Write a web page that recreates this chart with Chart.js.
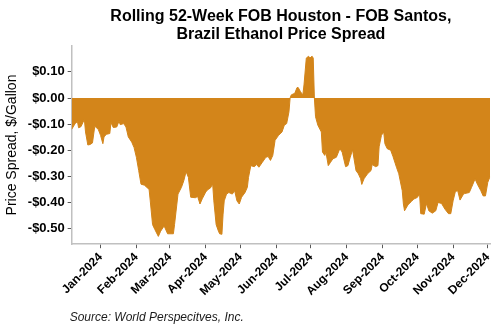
<!DOCTYPE html>
<html>
<head>
<meta charset="utf-8">
<script src="https://cdn.jsdelivr.net/npm/chart.js@4.4.1/dist/chart.umd.min.js"></script>
<style>
  html, body { margin: 0; padding: 0; background: #ffffff; }
  #wrap { width: 500px; height: 330px; position: relative; }
</style>
</head>
<body>
<div id="wrap"><canvas id="c" width="500" height="330"></canvas></div>
<script>
// ---- data ----
const dates = [
  '2023-12-07','2023-12-10','2023-12-12','2023-12-13','2023-12-15','2023-12-18','2023-12-19','2023-12-21','2023-12-23','2023-12-25',
  '2023-12-27','2023-12-30','2024-01-01','2024-01-03','2024-01-04','2024-01-06','2024-01-09','2024-01-10','2024-01-12','2024-01-15',
  '2024-01-17','2024-01-18','2024-01-21','2024-01-23','2024-01-25','2024-01-28','2024-01-30','2024-02-01','2024-02-03','2024-02-05',
  '2024-02-08','2024-02-12','2024-02-13','2024-02-15','2024-02-17','2024-02-20','2024-02-22','2024-02-25','2024-02-28','2024-03-04',
  '2024-03-05','2024-03-08','2024-03-11','2024-03-13','2024-03-15','2024-03-17','2024-03-19','2024-03-23','2024-03-25','2024-03-27',
  '2024-03-29','2024-04-01','2024-04-03','2024-04-05','2024-04-07','2024-04-08','2024-04-10','2024-04-12','2024-04-13','2024-04-15',
  '2024-04-16','2024-04-17','2024-04-19','2024-04-21','2024-04-24','2024-04-26','2024-04-28','2024-04-30','2024-05-02','2024-05-05',
  '2024-05-07','2024-05-08','2024-05-10','2024-05-13','2024-05-15','2024-05-17','2024-05-20','2024-05-23','2024-05-25','2024-05-27',
  '2024-05-29','2024-05-31','2024-06-03','2024-06-06','2024-06-08','2024-06-10','2024-06-12','2024-06-13','2024-06-14','2024-06-17',
  '2024-06-19','2024-06-20','2024-06-22','2024-06-24','2024-06-25','2024-06-27','2024-06-29','2024-06-30','2024-07-02','2024-07-03',
  '2024-07-04','2024-07-05','2024-07-07','2024-07-10','2024-07-11','2024-07-13','2024-07-14','2024-07-16','2024-07-18','2024-07-20',
  '2024-07-23','2024-07-26','2024-07-28','2024-07-31','2024-08-02','2024-08-04','2024-08-06','2024-08-09','2024-08-11','2024-08-13',
  '2024-08-14','2024-08-16','2024-08-19','2024-08-22','2024-08-23','2024-08-26','2024-08-28','2024-08-29','2024-08-31','2024-09-02',
  '2024-09-03','2024-09-05','2024-09-08','2024-09-10','2024-09-13','2024-09-15','2024-09-18','2024-09-19','2024-09-20','2024-09-23',
  '2024-09-26','2024-09-28','2024-10-01','2024-10-03','2024-10-04','2024-10-07','2024-10-09','2024-10-11','2024-10-14','2024-10-17',
  '2024-10-19','2024-10-22','2024-10-25','2024-10-28','2024-10-30','2024-11-01','2024-11-03','2024-11-05','2024-11-07','2024-11-10',
  '2024-11-11','2024-11-15','2024-11-17','2024-11-20','2024-11-22','2024-11-25','2024-11-27','2024-11-29','2024-12-01','2024-12-03'
];
const spread = [
  -0.120,-0.098,-0.090,-0.114,-0.110,-0.082,-0.130,-0.180,-0.178,-0.172,
  -0.108,-0.120,-0.143,-0.175,-0.149,-0.139,-0.136,-0.094,-0.113,-0.111,
  -0.088,-0.102,-0.098,-0.111,-0.149,-0.169,-0.190,-0.227,-0.278,-0.330,
  -0.334,-0.350,-0.394,-0.485,-0.504,-0.530,-0.510,-0.490,-0.520,-0.520,
  -0.485,-0.368,-0.342,-0.317,-0.282,-0.304,-0.380,-0.382,-0.377,-0.406,
  -0.386,-0.360,-0.350,-0.345,-0.330,-0.394,-0.485,-0.510,-0.520,-0.522,
  -0.445,-0.394,-0.368,-0.362,-0.368,-0.355,-0.394,-0.406,-0.380,-0.362,
  -0.342,-0.304,-0.259,-0.263,-0.255,-0.265,-0.246,-0.227,-0.224,-0.239,
  -0.220,-0.162,-0.143,-0.130,-0.104,-0.098,-0.053, 0.000, 0.012, 0.018,
   0.040, 0.040, 0.024, 0.012, 0.050, 0.153, 0.160, 0.153, 0.160, 0.153,
   0.000,-0.072,-0.104,-0.130,-0.207,-0.220,-0.207,-0.259,-0.246,-0.233,
  -0.227,-0.194,-0.207,-0.263,-0.259,-0.227,-0.198,-0.278,-0.290,-0.309,
  -0.331,-0.309,-0.290,-0.278,-0.255,-0.263,-0.259,-0.187,-0.143,-0.130,
  -0.175,-0.194,-0.200,-0.224,-0.265,-0.290,-0.355,-0.406,-0.432,-0.409,
  -0.396,-0.387,-0.381,-0.368,-0.443,-0.445,-0.404,-0.432,-0.441,-0.432,
  -0.400,-0.404,-0.426,-0.443,-0.443,-0.394,-0.358,-0.355,-0.391,-0.368,
  -0.366,-0.362,-0.342,-0.310,-0.330,-0.355,-0.375,-0.375,-0.323,-0.301
];
const monthTickDates = ['2024-01-01','2024-02-01','2024-03-01','2024-04-01','2024-05-01','2024-06-01',
                        '2024-07-01','2024-08-01','2024-09-01','2024-10-01','2024-11-01','2024-12-01'];
const monthTickLabels = ['Jan-2024','Feb-2024','Mar-2024','Apr-2024','May-2024','Jun-2024',
                         'Jul-2024','Aug-2024','Sep-2024','Oct-2024','Nov-2024','Dec-2024'];
const yTickValues = [0.10, 0.00, -0.10, -0.20, -0.30, -0.40, -0.50];
const titleLines = ['Rolling 52-Week FOB Houston - FOB Santos,', 'Brazil Ethanol Price Spread'];
const yAxisTitle = 'Price Spread, $/Gallon';
const sourceText = 'Source: World Perspecitves, Inc.';

// ---- helpers ----
const BASE = Date.UTC(2024, 0, 1);
function dayOf(s) {
  const p = s.split('-').map(Number);
  return (Date.UTC(p[0], p[1] - 1, p[2]) - BASE) / 86400000;
}
const points = dates.map((d, i) => ({ x: dayOf(d), y: spread[i] }));
const monthDays = monthTickDates.map(dayOf);
const xMin = dayOf(dates[0]);
const xMax = dayOf(dates[dates.length - 1]);

function fmtMoney(v) {
  const r = Math.round(v * 100) / 100;
  if (r < 0) return '-$' + Math.abs(r).toFixed(2);
  return '$' + Math.abs(r).toFixed(2);
}

const FONT = "'Liberation Sans', Arial, sans-serif";
const ORANGE = '#D3851A';

// reposition title over plot area and source to plot-area left edge
const alignPlugin = {
  id: 'alignBoxes',
  afterLayout(chart) {
    const ca = chart.chartArea;
    chart.boxes.forEach(b => {
      if (!b.options || b.options.text === undefined) return;
      if (b.options.text === sourceText) {
        const w = b.right - b.left;
        b.left = ca.left - 2;
        b.right = b.left + w;
      } else if (Array.isArray(b.options.text)) {
        b.left = ca.left;
        b.right = ca.right;
      }
    });
  }
};

new Chart(document.getElementById('c'), {
  type: 'line',
  data: {
    datasets: [{
      data: points,
      fill: 'origin',
      backgroundColor: ORANGE,
      borderColor: ORANGE,
      borderWidth: 1,
      pointRadius: 0,
      tension: 0
    }]
  },
  options: {
    responsive: false,
    animation: false,
    layout: { padding: { left: 4, right: 9, top: 0, bottom: 0 } },
    plugins: {
      legend: { display: false },
      tooltip: { enabled: false },
      title: {
        display: true,
        text: titleLines,
        color: '#000000',
        font: { family: FONT, size: 16, weight: 'bold', lineHeight: 1.15 },
        padding: { top: 7, bottom: 2 }
      },
      subtitle: {
        display: true,
        position: 'bottom',
        align: 'start',
        text: sourceText,
        color: '#1a1a1a',
        font: { family: FONT, size: 12, style: 'italic' },
        padding: { top: 10, bottom: 5 }
      }
    },
    scales: {
      x: {
        type: 'linear',
        min: xMin,
        max: xMax,
        afterBuildTicks(scale) {
          scale.ticks = monthDays.map(v => ({ value: v }));
        },
        ticks: {
          autoSkip: false,
          maxRotation: 45,
          minRotation: 45,
          color: '#000000',
          padding: 2,
          font: { family: FONT, size: 12, weight: 'bold' },
          callback(value) {
            const i = monthDays.indexOf(value);
            return i >= 0 ? monthTickLabels[i] : '';
          }
        },
        grid: { display: true, drawOnChartArea: false, drawTicks: true, tickLength: 4, color: '#595959' },
        border: { display: true, color: '#c0c0c0', width: 1.5 }
      },
      y: {
        type: 'linear',
        min: -0.56,
        max: 0.20,
        afterBuildTicks(scale) {
          scale.ticks = yTickValues.map(v => ({ value: v }));
        },
        ticks: {
          color: '#000000',
          padding: 3,
          font: { family: FONT, size: 13, weight: 'bold' },
          callback(value) { return fmtMoney(value); }
        },
        title: {
          display: true,
          text: yAxisTitle,
          color: '#000000',
          font: { family: FONT, size: 14 },
          padding: { top: 0, bottom: 4 }
        },
        grid: { display: true, drawOnChartArea: false, drawTicks: true, tickLength: 4, color: '#595959' },
        border: { display: true, color: '#c0c0c0', width: 1.5 }
      }
    }
  },
  plugins: [alignPlugin]
});
</script>
</body>
</html>
